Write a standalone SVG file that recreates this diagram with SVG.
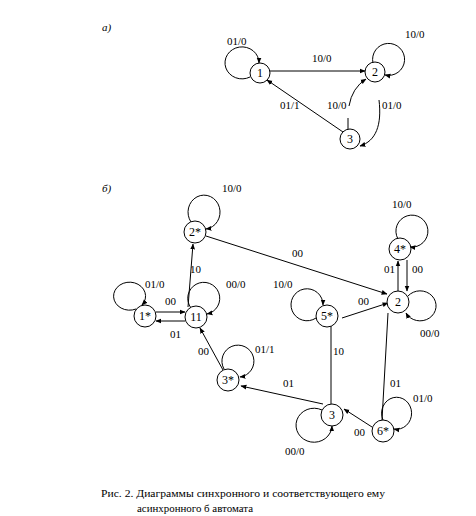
<svg xmlns="http://www.w3.org/2000/svg" width="476" height="516" viewBox="0 0 476 516">
<style>
text{font-family:"Liberation Serif","DejaVu Serif",serif;font-size:11px;fill:#000}
.n{fill:#fff;stroke:#000;stroke-width:1}
.c{fill:none;stroke:#000;stroke-width:1}
.a{marker-end:url(#ar)}
.t{text-anchor:middle;font-size:12px}
.cap{font-size:10px}
</style>
<defs>
<marker id="ar" viewBox="0 0 10 10" refX="9" refY="5" markerWidth="6" markerHeight="6" orient="auto" markerUnits="userSpaceOnUse">
<path d="M0,1 L10,5 L0,9 z" fill="#000"/>
</marker>
</defs>
<rect width="476" height="516" fill="#fff"/>
<text x="102" y="31" font-style="italic">а)</text>
<text x="102" y="192" font-style="italic">б)</text>
<g id="connectors">
<!-- a -->
<path class="c a" d="M250,77 A17,16 0 1 1 259,63"/>
<path class="c a" d="M270,71 L365,71"/>
<path class="c a" d="M373,63 A16,16 0 1 1 385,75"/>
<path class="c a" d="M343,132 L267,80"/>
<path class="c" d="M348,129 L348,118"/>
<path class="c a" d="M349,106 Q352,88 366,79"/>
<path class="c a" d="M379,100 C382,125 376,141 360,146"/>
<!-- b -->
<path class="c a" d="M191,222 A16,17 0 1 1 206,229"/>
<path class="c a" d="M136,309 A16,14 0 1 1 142,305"/>
<path class="c a" d="M191,308 A16,16 0 1 1 207,314"/>
<path class="c a" d="M156,312 L185,312"/>
<path class="c a" d="M185,321 L156,321"/>
<path class="c a" d="M188,307 L193,244"/>
<path class="c a" d="M206,236 L387,294"/>
<path class="c a" d="M398,239 A16,16 0 1 1 410,247"/>
<path class="c a" d="M398,291 L398,261"/>
<path class="c a" d="M407,260 L407,291"/>
<path class="c a" d="M408,296 A16,15 0 1 1 406,313"/>
<path class="c a" d="M316,318 A16,16 0 1 1 323,305"/>
<path class="c a" d="M342,318 L388,303"/>
<path class="c" d="M331,326 L331,404"/>
<path class="c a" d="M323,404 L241,386"/>
<path class="c a" d="M223,370 L200,328"/>
<path class="c a" d="M224,369 A16,16 0 1 1 240,377"/>
<path class="c a" d="M322,410 A18,17 0 1 0 332,426"/>
<path class="c a" d="M372,427 L344,409"/>
<path class="c" d="M388,313 L382,420"/>
<path class="c a" d="M383,420 A15,16 0 1 1 394,429"/>
</g>
<g id="node-a1"><circle class="n" cx="260" cy="73" r="10"/><text class="t" x="260" y="77">1</text></g>
<g id="node-a2"><circle class="n" cx="375" cy="72" r="10"/><text class="t" x="375" y="76">2</text></g>
<g id="node-a3"><circle class="n" cx="350" cy="139" r="10"/><text class="t" x="350" y="143">3</text></g>
<g id="node-b2s"><circle class="n" cx="195" cy="232" r="11"/><text class="t" x="195" y="236">2*</text></g>
<g id="node-b1s"><circle class="n" cx="145" cy="316" r="11"/><text class="t" x="145" y="320">1*</text></g>
<g id="node-b11"><circle class="n" cx="196" cy="317" r="11"/><text class="t" x="196" y="321">11</text></g>
<g id="node-b4s"><circle class="n" cx="400" cy="249" r="11"/><text class="t" x="400" y="253">4*</text></g>
<g id="node-b2"><circle class="n" cx="398" cy="302" r="11"/><text class="t" x="398" y="306">2</text></g>
<g id="node-b5s"><circle class="n" cx="327" cy="316" r="11"/><text class="t" x="327" y="320">5*</text></g>
<g id="node-b3s"><circle class="n" cx="228" cy="380" r="11"/><text class="t" x="228" y="384">3*</text></g>
<g id="node-b3"><circle class="n" cx="332" cy="415" r="11"/><text class="t" x="332" y="419">3</text></g>
<g id="node-b6s"><circle class="n" cx="383" cy="431" r="11"/><text class="t" x="383" y="435">6*</text></g>
<g id="labels">
<text x="227" y="45">01/0</text>
<text x="312" y="62">10/0</text>
<text x="405" y="38">10/0</text>
<text x="280" y="109">01/1</text>
<text x="327" y="109">10/0</text>
<text x="382" y="109">01/0</text>
<text x="222" y="192">10/0</text>
<text x="145" y="288">01/0</text>
<text x="226" y="288">00/0</text>
<text x="165" y="305">00</text>
<text x="170" y="338">01</text>
<text x="190" y="273">10</text>
<text x="292" y="257">00</text>
<text x="392" y="208">10/0</text>
<text x="384" y="273">01</text>
<text x="412" y="273">00</text>
<text x="420" y="337">00/0</text>
<text x="273" y="288">10/0</text>
<text x="358" y="305">00</text>
<text x="333" y="355">10</text>
<text x="283" y="387">01</text>
<text x="198" y="355">00</text>
<text x="255" y="353">01/1</text>
<text x="285" y="455">00/0</text>
<text x="354" y="436">00</text>
<text x="390" y="387">01</text>
<text x="413" y="402">01/0</text>
</g>
<text class="cap" x="101" y="497" textLength="284" lengthAdjust="spacingAndGlyphs">Рис. 2. Диаграммы синхронного и соответствующего ему</text>
<text class="cap" x="137" y="512" textLength="116" lengthAdjust="spacingAndGlyphs">асинхронного б автомата</text>
</svg>
